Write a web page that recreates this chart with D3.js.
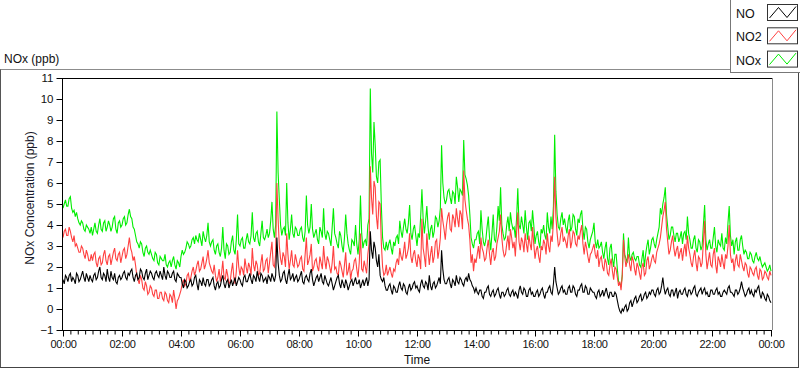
<!DOCTYPE html>
<html>
<head>
<meta charset="utf-8">
<script src="https://cdn.jsdelivr.net/npm/d3@7"></script>
<style>
  html, body { margin: 0; padding: 0; background: #fff; }
  svg { display: block; font-family: "Liberation Sans", Arial, sans-serif; }
</style>
</head>
<body>
<svg id="chart" width="800" height="369"></svg>
<script>
// ---------- data ----------
// readings on the 5-minute marks (00:00 .. 24:00) and readings half-way between them
const stepMinutes = 5;
const seriesNames = ["NO", "NO2", "NOx"];
const xTickLabels = ["00:00","02:00","04:00","06:00","08:00","10:00","12:00","14:00","16:00","18:00","20:00","22:00","00:00"];
const yTicks = [-1,0,1,2,3,4,5,6,7,8,9,10,11];

const NO = [
1.4,1.6,1.3,1.7,1.5,1.2,1.6,1.4,1.8,1.3,1.5,1.6,
1.3,1.7,1.5,2.0,1.4,1.6,1.9,1.3,1.5,1.7,1.2,1.6,
1.5,1.8,1.4,1.6,1.9,1.3,1.7,1.5,1.8,1.4,1.9,1.6,
1.7,1.4,1.8,1.5,1.6,2.0,1.4,1.7,1.5,1.8,1.3,1.6,
1.5,1.0,1.3,1.1,1.4,1.2,1.6,0.9,1.3,1.5,1.1,1.4,
1.2,1.5,0.9,1.3,1.1,1.6,1.0,1.4,1.2,1.1,1.5,1.3,
1.4,1.1,1.6,1.3,1.7,1.2,1.5,1.8,1.3,1.6,1.4,1.2,
1.5,1.7,1.3,3.4,1.6,1.4,1.8,1.2,1.9,1.5,1.3,1.6,
1.4,1.8,1.2,1.6,1.3,1.9,1.1,1.5,1.3,1.7,1.2,1.4,
1.1,1.5,0.9,1.3,1.6,1.0,1.2,1.4,0.9,1.3,1.1,1.5,
1.2,1.0,1.4,1.3,1.1,3.7,2.4,2.9,2.0,1.6,1.3,1.1,
0.9,1.2,0.7,1.0,0.8,1.3,0.9,1.1,0.7,1.2,1.0,1.3,
1.1,0.8,1.4,1.0,1.2,1.6,0.9,1.3,1.1,1.5,2.8,1.4,
1.2,1.5,1.0,1.3,1.6,1.2,1.4,1.1,1.5,1.7,1.3,1.0,
1.0,0.7,0.9,0.5,0.8,1.1,0.6,0.9,0.7,1.0,0.5,0.8,
0.7,1.0,0.6,0.9,0.8,0.5,1.1,0.7,0.9,0.6,1.0,0.8,
0.6,0.9,0.7,1.0,0.5,0.8,1.1,0.7,2.0,1.0,0.8,1.1,
0.9,0.7,1.1,0.8,1.0,0.6,0.9,1.2,0.8,1.0,0.7,0.9,
0.8,0.5,0.9,0.7,0.6,1.0,0.5,0.8,0.6,0.7,0.1,-0.2,
-0.1,0.2,0.0,0.4,0.3,0.6,0.4,0.7,0.5,0.8,0.6,0.7,
0.9,0.6,1.0,0.8,1.5,0.7,1.0,0.6,0.9,0.8,0.5,0.9,
0.7,1.0,0.6,0.9,0.8,1.1,0.6,0.9,0.7,1.0,0.8,0.6,
0.9,0.7,1.0,0.8,0.6,0.9,0.7,1.1,0.8,0.6,0.9,0.8,
1.3,0.8,0.7,1.0,0.9,0.6,0.8,1.1,0.5,0.7,0.4,0.6,
0.3];
const NO_mid = [
1.2,1.5,1.6,1.3,1.4,1.7,1.3,1.6,1.5,1.7,1.3,1.4,
1.6,1.4,1.8,1.5,1.7,1.3,1.5,1.8,1.4,1.3,1.5,1.4,
1.7,1.5,1.7,1.8,1.5,1.6,1.4,1.9,1.5,1.7,1.4,1.8,
1.5,1.7,1.6,1.8,1.4,1.6,1.8,1.5,1.7,1.4,1.7,1.5,
1.2,1.4,1.0,1.3,1.1,1.5,1.2,1.4,1.1,1.2,1.4,1.1,
1.4,1.1,1.2,1.0,1.4,1.2,1.3,1.0,1.4,1.3,1.1,1.5,
1.2,1.5,1.3,1.5,1.4,1.6,1.3,1.5,1.7,1.3,1.5,1.6,
1.3,1.5,1.6,2.2,1.3,1.7,1.4,1.6,1.4,1.7,1.5,1.3,
1.6,1.3,1.5,1.4,1.7,1.4,1.3,1.6,1.5,1.3,1.6,1.2,
1.3,1.2,1.1,1.5,1.2,1.4,1.0,1.2,1.1,1.4,1.3,1.2,
1.4,1.2,1.1,1.5,1.4,2.8,3.2,2.3,2.6,1.4,1.5,0.9,
1.1,0.9,1.1,0.8,1.1,1.0,1.2,0.8,1.0,0.9,1.2,1.0,
0.9,1.2,1.1,1.3,0.9,1.1,1.2,1.0,1.3,1.2,1.9,1.2,
1.4,1.2,1.4,1.1,1.3,1.5,1.2,1.4,1.3,1.4,1.1,0.8,
0.8,0.9,0.6,0.8,1.0,0.7,0.8,0.6,0.9,0.7,0.8,0.6,
0.9,0.7,0.8,0.6,0.7,0.9,0.8,1.0,0.6,0.9,0.7,0.6,
0.8,0.6,0.9,0.7,0.8,1.0,0.8,1.2,1.3,0.7,1.0,0.8,
0.7,1.0,0.8,1.1,0.7,0.9,1.1,0.8,1.1,0.7,1.0,0.8,
0.6,0.8,0.6,0.9,0.8,0.7,0.8,0.6,0.8,0.4,-0.1,0.0,
0.1,-0.1,0.3,0.1,0.5,0.3,0.6,0.4,0.7,0.5,0.8,0.9,
0.7,0.9,0.7,1.1,1.0,0.9,0.7,0.9,0.6,1.0,0.8,0.7,
0.9,0.7,0.9,0.7,1.0,0.7,0.8,1.0,0.9,0.7,0.6,0.9,
0.7,0.9,0.7,0.6,0.8,0.8,1.0,0.8,0.7,0.9,0.7,1.0,
1.0,0.6,0.9,0.7,0.7,0.9,1.0,0.7,0.8,0.5,0.7,0.4];

const NO2 = [
3.4,3.8,3.5,3.7,3.2,3.0,2.9,2.7,2.9,2.4,2.6,2.3,
2.3,2.7,2.0,2.5,2.2,2.8,2.1,2.6,2.4,2.9,2.3,2.7,
2.5,2.9,2.6,3.4,2.7,2.5,1.6,1.2,1.4,0.9,1.1,0.8,
1.0,0.6,0.9,0.5,0.8,0.4,0.7,0.3,0.6,0.9,0.0,0.5,
0.9,1.4,1.2,1.7,1.5,2.0,1.8,2.3,1.9,2.5,2.1,2.8,
2.0,1.7,1.6,1.5,1.3,2.3,1.4,1.6,1.3,2.2,1.2,2.8,
1.6,1.9,2.4,1.7,2.0,2.9,1.8,2.1,1.7,2.6,1.9,2.4,
2.2,3.2,2.0,6.0,3.0,2.1,2.5,3.6,1.9,2.8,2.0,2.3,
2.1,2.5,1.8,3.4,2.3,3.1,2.0,2.4,1.8,2.2,3.0,1.9,
2.3,1.7,3.0,2.0,1.6,2.1,1.5,2.7,1.8,1.4,1.9,2.4,
1.5,3.6,1.8,2.0,2.6,6.8,4.5,5.8,3.8,5.0,2.0,1.7,
1.6,2.0,1.5,1.8,2.4,2.9,2.3,3.2,2.6,3.6,2.2,2.8,
2.0,2.4,4.3,2.5,3.6,2.1,3.0,2.5,3.3,2.8,4.8,3.8,
4.0,4.6,3.7,4.3,4.8,3.9,4.5,6.6,4.7,4.0,2.2,1.8,
2.2,3.0,3.4,2.7,2.4,3.3,2.1,2.9,2.5,3.4,4.5,2.8,
2.6,3.5,3.8,2.9,2.5,4.6,2.8,3.2,3.6,2.7,3.1,3.9,
2.4,3.0,2.2,2.8,3.1,3.6,2.7,3.2,6.3,3.6,3.1,3.9,
3.4,2.9,3.8,3.2,3.6,3.0,3.3,4.0,2.6,2.9,2.2,2.7,
3.1,2.4,2.0,2.5,1.8,2.2,1.6,2.4,1.4,1.9,1.1,0.9,
3.3,2.0,2.6,1.8,2.3,1.6,2.0,1.4,2.2,1.7,2.5,2.1,
2.6,2.2,2.9,3.4,4.4,5.1,3.2,2.8,3.5,2.5,3.0,2.7,
2.3,3.1,3.5,2.6,2.0,2.8,1.8,2.4,2.2,4.2,1.9,2.7,
2.0,2.9,1.7,2.3,2.6,1.9,2.4,4.0,2.2,1.8,2.6,2.0,
2.3,1.8,2.1,1.5,1.9,1.6,2.0,1.4,1.8,1.5,1.7,1.4,
1.6];
const NO2_mid = [
3.7,3.5,3.9,3.4,3.5,3.1,2.7,3.0,2.6,2.8,2.3,2.6,
2.6,2.2,2.4,2.1,2.6,2.3,2.5,2.1,2.7,2.4,2.6,2.2,
2.8,2.4,3.0,2.9,2.3,2.1,1.4,1.6,1.0,1.3,0.7,1.1,
0.7,0.9,0.5,0.8,0.5,0.8,0.4,0.7,0.3,0.5,0.4,0.7,
1.2,1.1,1.6,1.3,1.8,1.6,2.1,1.8,2.2,1.9,2.4,2.2,
1.8,2.1,1.3,1.9,1.7,1.5,1.9,1.2,1.8,1.5,1.8,2.0,
2.0,1.6,2.0,2.2,1.6,2.1,2.3,1.6,2.2,1.8,2.3,1.7,
2.7,2.1,2.6,4.3,2.4,2.7,2.0,2.6,2.3,2.1,2.6,2.0,
2.4,1.9,2.6,2.1,2.6,1.8,2.3,2.0,2.5,1.9,2.3,2.5,
2.0,2.2,1.9,1.7,2.3,1.8,2.1,1.6,2.2,1.8,2.3,1.9,
2.2,1.9,2.3,1.7,3.1,5.3,6.1,4.4,5.1,3.1,1.6,2.1,
1.8,1.7,1.9,2.2,2.1,2.5,2.7,2.4,2.9,2.5,2.6,2.3,
2.6,1.9,2.9,2.0,2.8,2.6,2.2,3.2,2.4,3.4,4.2,3.3,
4.4,3.8,4.5,3.9,4.3,4.7,3.8,5.2,4.3,3.3,2.6,2.4,
2.6,2.4,2.9,2.3,2.9,2.6,2.7,2.3,3.1,3.7,3.4,2.5,
3.1,2.8,3.4,3.2,3.6,3.2,3.4,2.7,3.1,3.5,2.8,3.1,
2.8,2.5,3.0,3.3,2.6,3.0,3.5,4.2,4.4,3.0,3.6,3.2,
3.2,3.5,2.9,3.7,3.1,3.5,3.7,3.1,3.2,2.5,2.6,2.9,
2.6,2.8,2.4,2.0,2.4,1.7,2.1,1.8,2.0,1.5,1.3,1.6,
2.5,2.3,2.1,2.5,1.9,2.2,1.7,2.0,1.6,2.3,1.9,2.4,
2.3,2.7,3.1,3.9,4.7,3.8,2.6,3.2,2.9,2.8,2.4,2.9,
2.8,2.5,2.9,2.2,2.5,2.2,2.5,2.0,3.2,2.6,2.3,2.1,
2.6,2.1,2.5,2.0,2.2,2.6,3.0,2.6,2.4,2.3,2.1,2.6,
2.0,2.2,1.7,2.0,1.7,1.9,1.6,1.9,1.4,1.8,1.5,1.8];

const NOx = [
4.8,5.2,4.9,5.35,4.6,4.4,4.3,4.0,4.1,3.7,3.9,3.6,
3.5,4.1,3.6,4.3,3.7,4.2,3.9,4.0,3.9,4.4,3.6,4.2,
4.0,4.4,4.1,4.75,4.3,3.8,3.2,2.9,3.1,2.5,3.0,2.6,
2.6,2.3,2.6,2.1,2.4,2.3,2.1,2.2,2.0,2.5,1.9,2.2,
2.5,2.6,2.9,3.1,3.0,3.4,3.5,3.2,3.3,3.7,3.2,4.1,
3.0,3.3,2.6,3.1,2.5,3.9,2.4,3.0,2.7,3.5,2.6,4.5,
3.0,3.4,2.9,3.6,3.1,4.6,3.2,3.7,3.0,4.2,3.3,3.8,
3.6,5.1,3.4,9.4,5.2,3.5,3.9,6.0,3.3,4.5,3.4,3.8,
3.5,3.9,3.2,5.4,3.6,5.0,3.4,3.8,3.1,3.7,4.8,3.3,
3.6,3.0,4.8,3.4,2.9,3.5,2.7,4.5,3.1,2.6,3.2,4.0,
2.6,5.4,2.9,3.3,4.0,10.5,6.5,7.8,6.0,7.1,3.4,2.8,
2.8,3.3,2.6,3.0,3.5,4.2,3.4,4.3,3.6,4.95,3.3,4.0,
3.0,3.4,5.7,3.6,4.9,3.3,4.0,3.7,4.3,4.2,7.8,5.3,
5.2,5.7,5.0,5.5,6.3,5.1,5.6,8.05,6.2,5.4,3.4,2.9,
3.3,3.7,4.7,3.2,3.3,4.4,2.8,4.5,3.2,4.9,5.8,3.6,
3.4,4.4,4.6,3.8,3.4,5.75,3.8,4.0,4.7,3.3,4.2,4.7,
3.1,3.7,2.9,3.6,3.5,4.6,3.6,3.8,8.3,4.5,3.8,4.6,
4.3,3.6,4.5,3.9,4.4,3.5,4.1,4.7,3.3,3.8,2.9,3.5,
4.1,2.9,2.9,3.2,2.4,3.2,2.1,3.1,2.0,2.6,1.3,1.1,
3.6,2.4,3.4,2.3,2.7,2.3,2.5,2.0,2.8,2.6,3.3,2.9,
3.4,2.9,3.6,4.8,5.0,5.8,3.9,3.5,3.9,3.2,3.6,3.4,
3.1,3.7,4.4,3.3,2.9,3.5,2.7,3.2,3.0,4.95,2.8,3.3,
2.9,3.9,2.7,3.1,3.6,2.8,3.1,4.9,3.0,2.6,3.4,2.8,
3.5,2.6,2.7,2.4,2.6,2.2,2.7,2.3,2.2,2.1,2.0,1.9,
1.8];
const NOx_mid = [
5.0,4.9,5.25,4.8,4.7,4.6,4.1,4.2,3.8,4.0,3.8,3.9,
3.8,3.7,4.0,3.8,4.1,3.7,4.2,3.7,4.3,3.8,4.1,3.9,
4.3,4.0,4.5,4.4,3.9,3.5,3.1,3.2,2.7,2.9,2.7,2.8,
2.4,2.7,2.2,2.5,2.3,2.6,2.0,2.3,2.3,2.1,2.3,2.0,
2.8,2.7,3.2,2.9,3.3,3.1,3.3,3.6,3.0,3.4,3.5,3.2,
3.2,2.8,3.0,2.7,2.9,2.8,3.1,2.6,3.2,2.8,3.3,3.1,
3.3,2.9,3.3,3.2,3.5,3.4,3.6,3.2,3.6,3.4,3.5,3.4,
4.2,3.8,4.0,6.5,4.0,3.8,3.5,4.1,3.8,3.6,3.9,3.5,
3.8,3.4,3.7,4.0,3.9,3.8,3.6,3.3,3.9,3.4,3.6,3.7,
3.3,3.9,3.6,3.1,3.7,3.0,3.4,3.6,2.8,3.3,3.0,3.1,
3.3,3.6,3.2,3.0,4.3,7.4,8.9,6.3,7.0,4.9,2.9,3.2,
3.1,2.9,3.2,3.4,3.1,3.7,3.9,3.8,4.1,3.6,3.8,3.5,
3.6,4.4,4.3,4.2,3.9,3.8,3.4,4.4,3.9,4.8,6.0,5.0,
5.6,5.3,5.6,5.0,5.8,5.7,5.4,6.4,5.9,4.5,3.1,3.3,
3.6,3.1,3.8,3.0,3.9,3.4,3.6,3.3,3.9,4.2,4.0,3.3,
4.0,3.7,4.1,3.9,4.3,4.0,4.4,3.6,3.9,4.1,3.7,4.0,
3.5,3.2,3.8,4.0,3.3,3.9,4.4,4.9,5.6,3.9,4.3,4.0,
3.9,4.2,3.7,4.5,3.8,4.3,4.5,3.8,3.9,3.2,3.3,3.7,
3.2,3.3,3.0,2.7,2.9,2.4,2.9,2.4,2.6,1.9,1.2,1.6,
2.6,2.2,2.5,2.6,2.4,2.5,2.1,2.4,2.0,3.0,2.6,3.3,
3.1,3.3,3.9,4.5,5.3,4.5,3.3,3.9,3.5,3.6,3.2,3.7,
3.6,3.3,3.6,2.9,3.3,2.9,3.3,2.8,4.0,3.3,3.1,2.9,
3.4,3.0,3.3,3.0,2.9,3.4,4.1,3.5,3.3,3.2,2.8,3.3,
3.0,2.8,2.4,2.7,2.3,2.5,2.4,2.5,2.0,2.2,1.8,2.1];

const seriesColors = { NO: "#000000", NO2: "#ff4040", NOx: "#00ee00" };

// merge the 5-minute marks and the half-way readings into one time-ordered table
function merge(marks, mids) {
  const out = [];
  marks.forEach((v, i) => {
    out.push({ t: i * stepMinutes, v: v });
    if (i < mids.length) out.push({ t: i * stepMinutes + stepMinutes / 2, v: mids[i] });
  });
  return out;
}
const table = { NO: merge(NO, NO_mid), NO2: merge(NO2, NO2_mid), NOx: merge(NOx, NOx_mid) };

// ---------- layout ----------
const svg = d3.select("#chart");
const plot = { left: 62, right: 772, top: 78, bottom: 330 };
const x = d3.scaleLinear().domain([0, 1440]).range([63, 771]);
const y = d3.scaleLinear().domain([-1, 11]).range([plot.bottom, plot.top]);

// outer frame
svg.append("line").attr("x1", 0).attr("x2", 799).attr("y1", 69.5).attr("y2", 69.5).attr("stroke", "#8c8c8c");
svg.append("line").attr("x1", 0.5).attr("x2", 0.5).attr("y1", 69.5).attr("y2", 367.5).attr("stroke", "#555");
svg.append("line").attr("x1", 0).attr("x2", 799).attr("y1", 367.5).attr("y2", 367.5).attr("stroke", "#444");
svg.append("line").attr("x1", 798.5).attr("x2", 798.5).attr("y1", 69.5).attr("y2", 367.5).attr("stroke", "#444");

// title
svg.append("text").attr("x", 4).attr("y", 63).attr("font-size", 12).attr("fill", "#111").text("NOx (ppb)");

// plot frame
svg.append("line").attr("x1", plot.left).attr("x2", plot.right).attr("y1", plot.top + 0.5).attr("y2", plot.top + 0.5).attr("stroke", "#000");
svg.append("line").attr("x1", plot.right + 0.5).attr("x2", plot.right + 0.5).attr("y1", plot.top).attr("y2", plot.bottom).attr("stroke", "#8a8a8a");

// clip
svg.append("clipPath").attr("id", "clip").append("rect")
  .attr("x", plot.left + 1).attr("y", plot.top + 1)
  .attr("width", plot.right - plot.left - 1).attr("height", plot.bottom - plot.top - 1);

// lines
const line = d3.line().x(d => x(d.t)).y(d => y(d.v));
const g = svg.append("g").attr("clip-path", "url(#clip)");
["NOx", "NO2", "NO"].forEach(name => {
  g.append("path").datum(table[name]).attr("d", line)
    .attr("fill", "none").attr("stroke", seriesColors[name]).attr("stroke-width", 1.1);
});

// y axis
const yAxis = d3.axisLeft(y).tickValues(yTicks).tickSize(6).tickPadding(3).tickFormat(d3.format("d"));
const gy = svg.append("g").attr("transform", `translate(${plot.left + 0.5},0)`).call(yAxis);
gy.select(".domain").attr("stroke", "#000").attr("d", `M-0,${plot.top}V${plot.bottom + 0.5}`);
gy.selectAll(".tick line").attr("stroke", "#000");
gy.selectAll(".tick text").attr("font-size", 11.5).attr("fill", "#111").attr("font-family", "Liberation Sans, Arial, sans-serif");

// x axis minor ticks
const minorVals = d3.range(0, 1441, 15);
const gxm = svg.append("g").attr("transform", `translate(0,${plot.bottom + 0.5})`)
  .call(d3.axisBottom(x).tickValues(minorVals).tickSize(4).tickFormat(""));
gxm.select(".domain").remove();
gxm.selectAll(".tick line").attr("stroke", "#000");

// x axis major
const majorVals = xTickLabels.map((_, i) => i * 120);
const gx = svg.append("g").attr("transform", `translate(0,${plot.bottom + 0.5})`)
  .call(d3.axisBottom(x).tickValues(majorVals).tickSize(6).tickPadding(4).tickFormat((d, i) => xTickLabels[i]));
gx.select(".domain").attr("stroke", "#000").attr("d", `M${plot.left},0H${plot.right}`);
gx.selectAll(".tick line").attr("stroke", "#000");
gx.selectAll(".tick text").attr("font-size", 11).attr("fill", "#111").attr("letter-spacing", "-0.3px")
  .attr("font-family", "Liberation Sans, Arial, sans-serif");

// axis titles
svg.append("text").attr("x", (plot.left + plot.right) / 2).attr("y", 364).attr("text-anchor", "middle")
  .attr("font-size", 12).attr("fill", "#111").text("Time");
svg.append("text").attr("transform", `translate(34,${(plot.top + plot.bottom) / 2 - 6}) rotate(-90)`)
  .attr("text-anchor", "middle").attr("font-size", 12).attr("fill", "#1a1a2a").text("NOx Concentration (ppb)");

// legend
const lg = svg.append("g");
lg.append("rect").attr("x", 730.5).attr("y", -0.5).attr("width", 70).attr("height", 73)
  .attr("fill", "#fff").attr("stroke", "#777");
seriesNames.forEach((name, i) => {
  const oy = i * 23.3;
  lg.append("text").attr("x", 736).attr("y", 18 + oy).attr("font-size", 12.5).attr("fill", "#111").text(name);
  lg.append("rect").attr("x", 767.5).attr("y", 4.5 + oy).attr("width", 30).attr("height", 16)
    .attr("fill", "#fff").attr("stroke", "#333");
  lg.append("path").attr("d", `M769.5,${18 + oy}L778.5,${7.5 + oy}L787,${17.5 + oy}L796,${6.5 + oy}`)
    .attr("fill", "none").attr("stroke", seriesColors[name]).attr("stroke-width", 1);
});
</script>
</body>
</html>
